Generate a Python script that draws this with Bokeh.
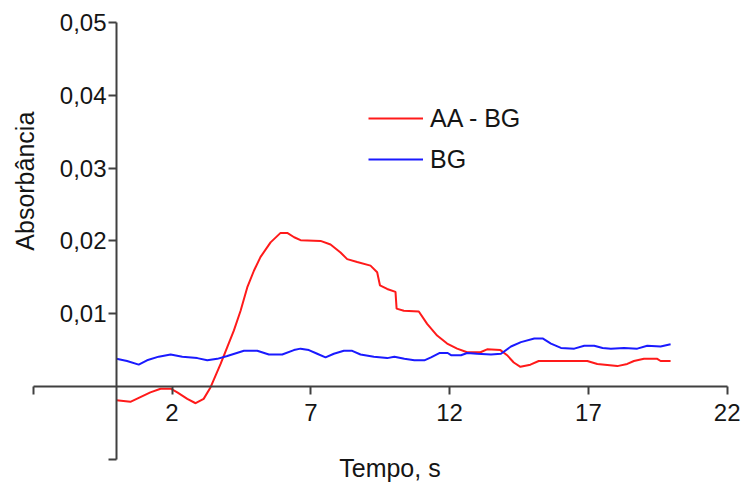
import math
from bokeh.plotting import figure
from bokeh.models import (Range1d, LinearAxis, FixedTicker, CustomJSTickFormatter,
                          Label, Legend)
from bokeh.embed import file_html
from bokeh.resources import INLINE

# Absorbance traces, time in seconds
t_aa = [0.0, 0.5, 1.22, 1.59, 1.95, 2.19, 2.55, 2.85, 3.14, 3.39, 3.75, 3.99, 4.23,
        4.47, 4.71, 4.95, 5.19, 5.55, 5.91, 6.15, 6.40, 6.63, 7.35, 7.71, 8.07, 8.31,
        8.67, 9.15, 9.39, 9.49, 9.75, 10.05, 10.09, 10.35, 10.89, 11.19, 11.55, 11.91,
        12.27, 12.63, 13.11, 13.35, 13.83, 14.07, 14.31, 14.55, 14.91, 15.21, 16.96,
        17.32, 18.04, 18.40, 18.64, 19.00, 19.48, 19.60, 19.96]
a_aa = [-0.0019, -0.0021, -0.0008, -0.0003, -0.0003, -0.0008, -0.0017, -0.0023, -0.0017,
        -0.0001, 0.0031, 0.0054, 0.0077, 0.0104, 0.0136, 0.0159, 0.0178, 0.0198, 0.0211,
        0.0211, 0.0205, 0.0201, 0.0200, 0.0195, 0.0184, 0.0175, 0.0171, 0.0166, 0.0157,
        0.0139, 0.0134, 0.0130, 0.0107, 0.0104, 0.0103, 0.0086, 0.0070, 0.0059, 0.0052,
        0.0047, 0.0047, 0.0051, 0.0050, 0.0043, 0.0033, 0.0027, 0.0030, 0.0035, 0.0035,
        0.0031, 0.0028, 0.0031, 0.0035, 0.0038, 0.0038, 0.0035, 0.0035]

t_bg = [0.0, 0.38, 0.80, 1.10, 1.52, 1.95, 2.37, 2.91, 3.27, 3.63, 3.99, 4.59, 5.07,
        5.49, 5.97, 6.39, 6.63, 6.93, 7.23, 7.53, 7.83, 8.19, 8.49, 8.79, 9.27, 9.75,
        10.01, 10.37, 10.73, 11.09, 11.33, 11.63, 11.93, 12.05, 12.41, 12.63, 12.99,
        13.49, 13.85, 14.21, 14.57, 15.05, 15.35, 15.65, 16.01, 16.49, 16.85, 17.21,
        17.51, 17.81, 18.28, 18.76, 19.12, 19.60, 19.96]
a_bg = [0.0038, 0.0035, 0.0030, 0.0036, 0.0041, 0.0044, 0.0041, 0.0039, 0.0036, 0.0038,
        0.0042, 0.0049, 0.0049, 0.0044, 0.0044, 0.0050, 0.0052, 0.0050, 0.0045, 0.0040,
        0.0045, 0.0049, 0.0049, 0.0044, 0.0041, 0.0039, 0.0041, 0.0038, 0.0036, 0.0036,
        0.0040, 0.0046, 0.0046, 0.0043, 0.0043, 0.0046, 0.0045, 0.0044, 0.0045, 0.0055,
        0.0061, 0.0066, 0.0066, 0.0059, 0.0053, 0.0052, 0.0056, 0.0056, 0.0053, 0.0052,
        0.0053, 0.0052, 0.0056, 0.0055, 0.0058]

x_ticks = [2, 7, 12, 17, 22]
y_ticks = [0.01, 0.02, 0.03, 0.04, 0.05]
x_bounds = (-3, 22)
y_bounds = (-0.01, 0.05)
series_names = ["AA - BG", "BG"]
x_title = "Tempo, s"
y_title = "Absorbância"

W, H = 742, 488
X0_PX, PX_PER_S = 116, 27.76      # where t = 0 sits, pixels per second
Y0_PX, PX_PER_A = 386, 7280       # where A = 0 sits, pixels per absorbance unit

FONT = "Liberation Sans"
TXT = "#151515"
AX = "#404040"

p = figure(width=W, height=H,
           x_range=Range1d(-X0_PX / PX_PER_S, (W - X0_PX) / PX_PER_S),
           y_range=Range1d(-(H - Y0_PX) / PX_PER_A, Y0_PX / PX_PER_A),
           x_axis_type=None, y_axis_type=None,
           toolbar_location=None, output_backend="svg",
           min_border_left=0, min_border_right=0,
           min_border_top=0, min_border_bottom=0)
p.outline_line_color = None
p.background_fill_color = "white"
p.border_fill_color = "white"

def style_axis(ax):
    ax.axis_line_color = AX
    ax.axis_line_width = 2
    ax.major_tick_line_color = AX
    ax.major_tick_line_width = 2
    ax.major_tick_in = 0
    ax.major_tick_out = 8
    ax.minor_tick_line_color = None
    ax.major_label_text_font = FONT
    ax.major_label_text_font_size = "24px"
    ax.major_label_text_color = TXT

# axes cross at the origin; the end ticks carry no label
yaxis = LinearAxis(ticker=FixedTicker(ticks=[y_bounds[0]] + y_ticks), bounds=y_bounds,
                   fixed_location=0,
                   formatter=CustomJSTickFormatter(
                       code="return tick > 0 ? tick.toFixed(2).replace('.', ',') : ''"))
style_axis(yaxis)
yaxis.major_label_standoff = 2
p.add_layout(yaxis, "left")

xaxis = LinearAxis(ticker=FixedTicker(ticks=[x_bounds[0]] + x_ticks), bounds=x_bounds,
                   fixed_location=0,
                   formatter=CustomJSTickFormatter(
                       code="return tick > 0 ? tick.toString() : ''"))
style_axis(xaxis)
xaxis.major_label_standoff = 9
p.add_layout(xaxis, "below")

r_aa = p.line(t_aa, a_aa, line_color="#ff1a1a", line_width=2)
r_bg = p.line(t_bg, a_bg, line_color="#1a1aff", line_width=2)

legend = Legend(items=[(series_names[0], [r_aa]), (series_names[1], [r_bg])],
                location=(368, 310))
legend.label_text_font = FONT
legend.label_text_font_size = "25px"
legend.label_text_color = TXT
legend.glyph_width = 55
legend.glyph_height = 38
legend.label_height = 38
legend.label_standoff = 7
legend.spacing = 3
legend.padding = 0
legend.margin = 0
legend.border_line_color = None
legend.background_fill_alpha = 0
p.add_layout(legend)

p.add_layout(Label(x=9.85, y=-0.01126, text=x_title, text_align="center",
                   text_baseline="middle", text_font=FONT, text_font_size="25px",
                   text_color=TXT))
p.add_layout(Label(x=-3.28, y=0.0282, text=y_title, angle=math.pi / 2,
                   text_align="center", text_baseline="middle", text_font=FONT,
                   text_font_size="25px", text_color=TXT))

open("out.html", "w").write(file_html(p, INLINE))
